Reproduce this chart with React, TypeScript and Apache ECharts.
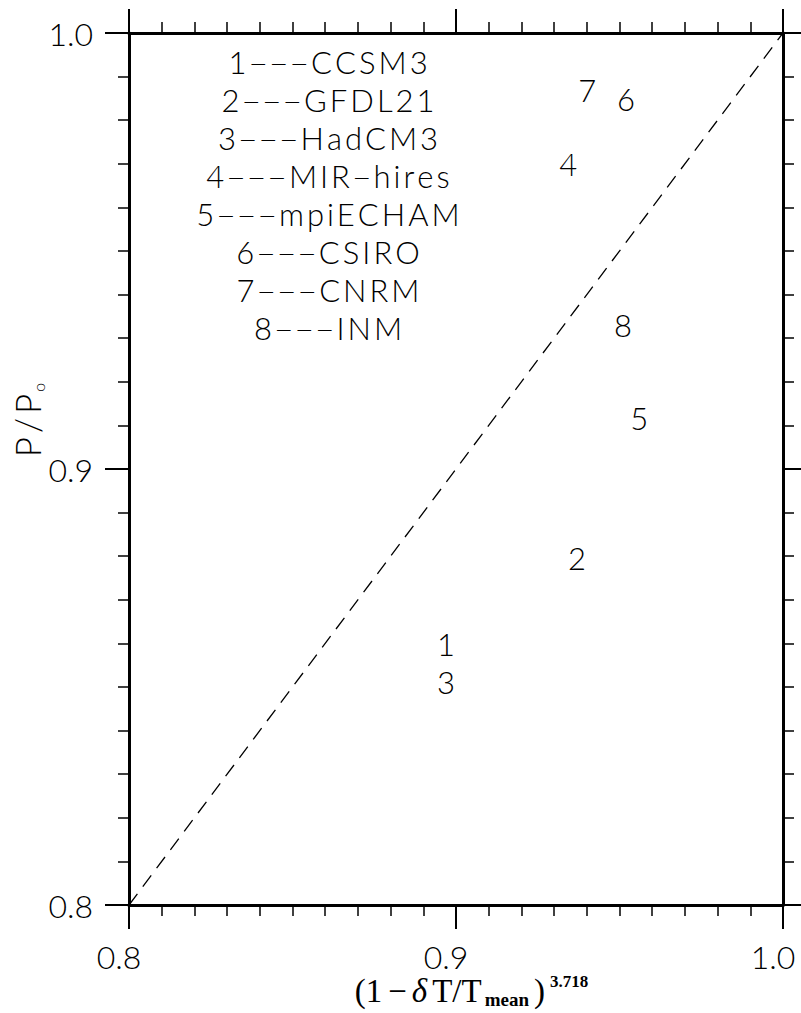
import React, { useEffect, useRef } from "react";
import * as echarts from "echarts";

// ---- data ----
const modelIds = ["1", "2", "3", "4", "5", "6", "7", "8"];
const modelNames = ["CCSM3", "GFDL21", "HadCM3", "MIR—hires", "mpiECHAM", "CSIRO", "CNRM", "INM"];
const xValues = [0.8969, 0.937, 0.8969, 0.9343, 0.956, 0.952, 0.9401, 0.9511];
const yValues = [0.8598, 0.8796, 0.8512, 0.97, 0.9117, 0.9849, 0.9869, 0.933];
const diagX = [0.8, 1.0];
const diagY = [0.8, 1.0];
const axisMin = 0.8;
const axisMax = 1.0;
const axisInterval = 0.1;

const FONT = "Lato";

// spread characters (wide letter spacing like the original plotting font)
function spaced(s: string): string {
  return Array.from(s)
    .map((c) => (c === "—" ? `{d|${c}}` : `{t|${c}}`))
    .join("");
}

export default function App() {
  const ref = useRef<HTMLDivElement>(null);
  useEffect(() => {
    document.body.style.margin = "0";
    if (!ref.current) return;
    const chart = echarts.init(ref.current, null, { renderer: "svg" });

    const axisLine = { show: true, onZero: false, lineStyle: { color: "#000", width: 3 } };
    const axisTick = { show: true, inside: false, length: 24, lineStyle: { color: "#000", width: 2 } };
    const minorTick = { show: true, splitNumber: 10, length: 11, lineStyle: { color: "#000", width: 1.5 } };
    const base = {
      type: "value" as const,
      min: axisMin,
      max: axisMax,
      interval: axisInterval,
      axisLine,
      axisTick,
      minorTick,
      splitLine: { show: false },
      minorSplitLine: { show: false },
    };
    const labelStyle = {
      color: "#000",
      fontFamily: FONT,
      fontWeight: 300 as any,
      fontSize: 32,
      formatter: (v: number) => v.toFixed(1),
    };

    const legendRich = {
      t: { fontFamily: FONT, fontWeight: 300, fontSize: 31, lineHeight: 36, padding: [0, 1.5, 0, 1.5], verticalAlign: "middle", fill: "#000" },
      d: { fontFamily: FONT, fontWeight: 300, fontSize: 21, lineHeight: 36, padding: [0, 2, 0, 2], verticalAlign: "middle", fill: "#000" },
    };

    const option: any = {
      animation: false,
      backgroundColor: "#fff",
      grid: { left: 129, right: 18, top: 33, bottom: 108, containLabel: false, outerBoundsMode: "none" },
      xAxis: [
        {
          ...base,
          position: "bottom",
          axisLabel: { ...labelStyle, margin: 35, padding: [0, 20, 0, 0] },
        },
        { ...base, position: "top", axisLabel: { show: false } },
      ],
      yAxis: [
        { ...base, position: "left", axisLabel: { ...labelStyle, margin: 36 } },
        { ...base, position: "right", axisLabel: { show: false } },
      ],
      series: [
        {
          type: "line",
          data: diagX.map((x, i) => [x, diagY[i]]),
          symbol: "none",
          silent: true,
          lineStyle: { color: "#000", width: 1.3, type: [14, 9] },
        },
        {
          type: "scatter",
          data: xValues.map((x, i) => ({ value: [x, yValues[i]], name: modelIds[i] })),
          symbolSize: 0,
          itemStyle: { color: "#000", opacity: 1 },
          silent: true,
          label: {
            show: true,
            position: "inside",
            formatter: "{b}",
            color: "#000",
            opacity: 1,
            textBorderWidth: 0,
            fontFamily: FONT,
            fontWeight: 300,
            fontSize: 31,
          },
        },
      ],
      graphic: [
        ...modelIds.map((id, i) => ({
          type: "text",
          x: 328,
          y: 62 + 38 * i,
          style: {
            text: spaced(`${id}———${modelNames[i]}`),
            align: "center",
            verticalAlign: "middle",
            fill: "#000",
            rich: legendRich,
          },
        })),
        {
          type: "text",
          x: 27,
          y: 421,
          rotation: Math.PI / 2,
          style: {
            text: "{a|P}{a|/}{a|P}{b|o}",
            align: "center",
            verticalAlign: "middle",
            fill: "#000",
            rich: {
              a: { fontFamily: FONT, fontWeight: 300, fontSize: 35, lineHeight: 38, padding: [0, 2, 0, 2], verticalAlign: "middle", fill: "#000" },
              b: { fontFamily: FONT, fontWeight: 300, fontSize: 16, lineHeight: 38, verticalAlign: "bottom", fill: "#000" },
            },
          },
        },
        {
          type: "text",
          x: 470,
          y: 991,
          style: {
            text: "{a|(1}{m|−}{d|δ}{a|T/T}{sub|mean}{a|)}{sup|3.718}",
            align: "center",
            verticalAlign: "middle",
            fill: "#000",
            rich: {
              a: { fontFamily: "Liberation Serif", fontSize: 33, lineHeight: 36, padding: [0, 3, 0, 3], verticalAlign: "middle", fill: "#000" },
              m: { fontFamily: "Liberation Serif", fontSize: 33, lineHeight: 36, padding: [0, 3, 0, 3], verticalAlign: "middle", fill: "#000" },
              d: { fontFamily: "Liberation Serif", fontStyle: "italic", fontSize: 33, lineHeight: 36, padding: [0, 2, 0, 2], verticalAlign: "middle", fill: "#000" },
              sub: { fontFamily: "Liberation Serif", fontWeight: "bold", fontSize: 19, lineHeight: 36, padding: [0, 2, 0, 0], verticalAlign: "bottom", fill: "#000" },
              sup: { fontFamily: "Liberation Serif", fontWeight: "bold", fontSize: 17, lineHeight: 36, padding: [0, 0, 0, 2], verticalAlign: "top", fill: "#000" },
            },
          },
        },
      ],
    };
    chart.setOption(option);
    return () => chart.dispose();
  }, []);
  return <div ref={ref} style={{ width: 801, height: 1013 }} />;
}
